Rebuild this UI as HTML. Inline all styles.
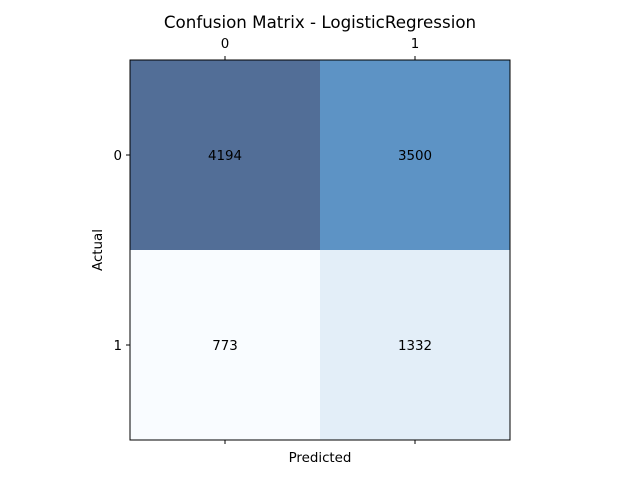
<!DOCTYPE html>
<html><head><meta charset="utf-8"><style>
body{margin:0;background:#fff}
svg{display:block;font-family:"DejaVu Sans","Liberation Sans",sans-serif}
</style></head><body>
<svg id="chart" width="640" height="480">
<rect width="640" height="480" fill="#fff"/>
<text x="320" y="28" text-anchor="middle" font-size="16.7">Confusion Matrix - LogisticRegression</text>
<g id="cells"></g>
<rect x="130" y="60" width="380" height="380" fill="none" stroke="#000" stroke-width="1"/>
<g id="ticks"></g>
<text x="320" y="462" text-anchor="middle" font-size="13.4">Predicted</text>
<text x="102" y="250" text-anchor="middle" font-size="13.4" transform="rotate(-90 102 250)">Actual</text>
</svg>
<script>
const actualLabels = ["0", "1"];
const predictedLabels = ["0", "1"];
const matrixRow0 = [4194, 3500];
const matrixRow1 = [773, 1332];
const matrix = [matrixRow0, matrixRow1];

const NS = "http://www.w3.org/2000/svg";
const x0 = 130, y0 = 60, W = 380, H = 380;
const nC = predictedLabels.length, nR = actualLabels.length;
const cw = W / nC, ch = H / nR;
const xPos = j => x0 + j * cw;
const yPos = i => y0 + i * ch;
const stops = ["#f7fbff","#deebf7","#c6dbef","#9ecae1","#6baed6","#4292c6","#2171b5","#08519c","#08306b"].map(h=>[1,3,5].map(k=>parseInt(h.substr(k,2),16)));
function blues(t){
  t=Math.max(0,Math.min(1,t));const s=t*(stops.length-1);const i=Math.min(Math.floor(s),stops.length-2);const f=s-i;
  return stops[i].map((v,k)=>Math.round((v+(stops[i+1][k]-v)*f)*0.7+255*0.3));
}
const all = matrix.flat(); const mn = Math.min(...all), mx = Math.max(...all);
const cells = document.getElementById("cells");
matrix.forEach((row,i)=>row.forEach((v,j)=>{
  const c = blues((v-mn)/(mx-mn||1));
  const r = document.createElementNS(NS,"rect");
  r.setAttribute("x",xPos(j));r.setAttribute("y",yPos(i));r.setAttribute("width",cw);r.setAttribute("height",ch);
  r.setAttribute("fill",`rgb(${c.join(",")})`);
  
  
  cells.appendChild(r);
  const t = document.createElementNS(NS,"text");
  t.setAttribute("x",xPos(j)+cw/2);t.setAttribute("y",yPos(i)+ch/2+5);t.setAttribute("text-anchor","middle");t.setAttribute("font-size","13.4");
  t.textContent = v;
  
  
  cells.appendChild(t);
}));
const ticks = document.getElementById("ticks");
function line(x1,y1,x2,y2,name){const l=document.createElementNS(NS,"line");l.setAttribute("x1",x1);l.setAttribute("y1",y1);l.setAttribute("x2",x2);l.setAttribute("y2",y2);l.setAttribute("stroke","#000");
  
  
  ticks.appendChild(l);}
function label(x,y,s,anchor,name){const t=document.createElementNS(NS,"text");t.setAttribute("x",x);t.setAttribute("y",y);t.setAttribute("text-anchor",anchor);t.setAttribute("font-size","13.4");t.textContent=s;
  
  
  ticks.appendChild(t);}
predictedLabels.forEach((s,j)=>{const x=xPos(j)+cw/2;
  line(x,y0,x,y0-4,'x-tick-top');line(x,y0+H,x,y0+H+4,'x-tick-bottom');
  label(x,y0-12,s,"middle",'x-tick-label');});
actualLabels.forEach((s,i)=>{const y=yPos(i)+ch/2;
  line(x0,y,x0-4,y,'y-tick');label(x0-8,y+5,s,"end",'y-tick-label');});
</script>
</body></html>
